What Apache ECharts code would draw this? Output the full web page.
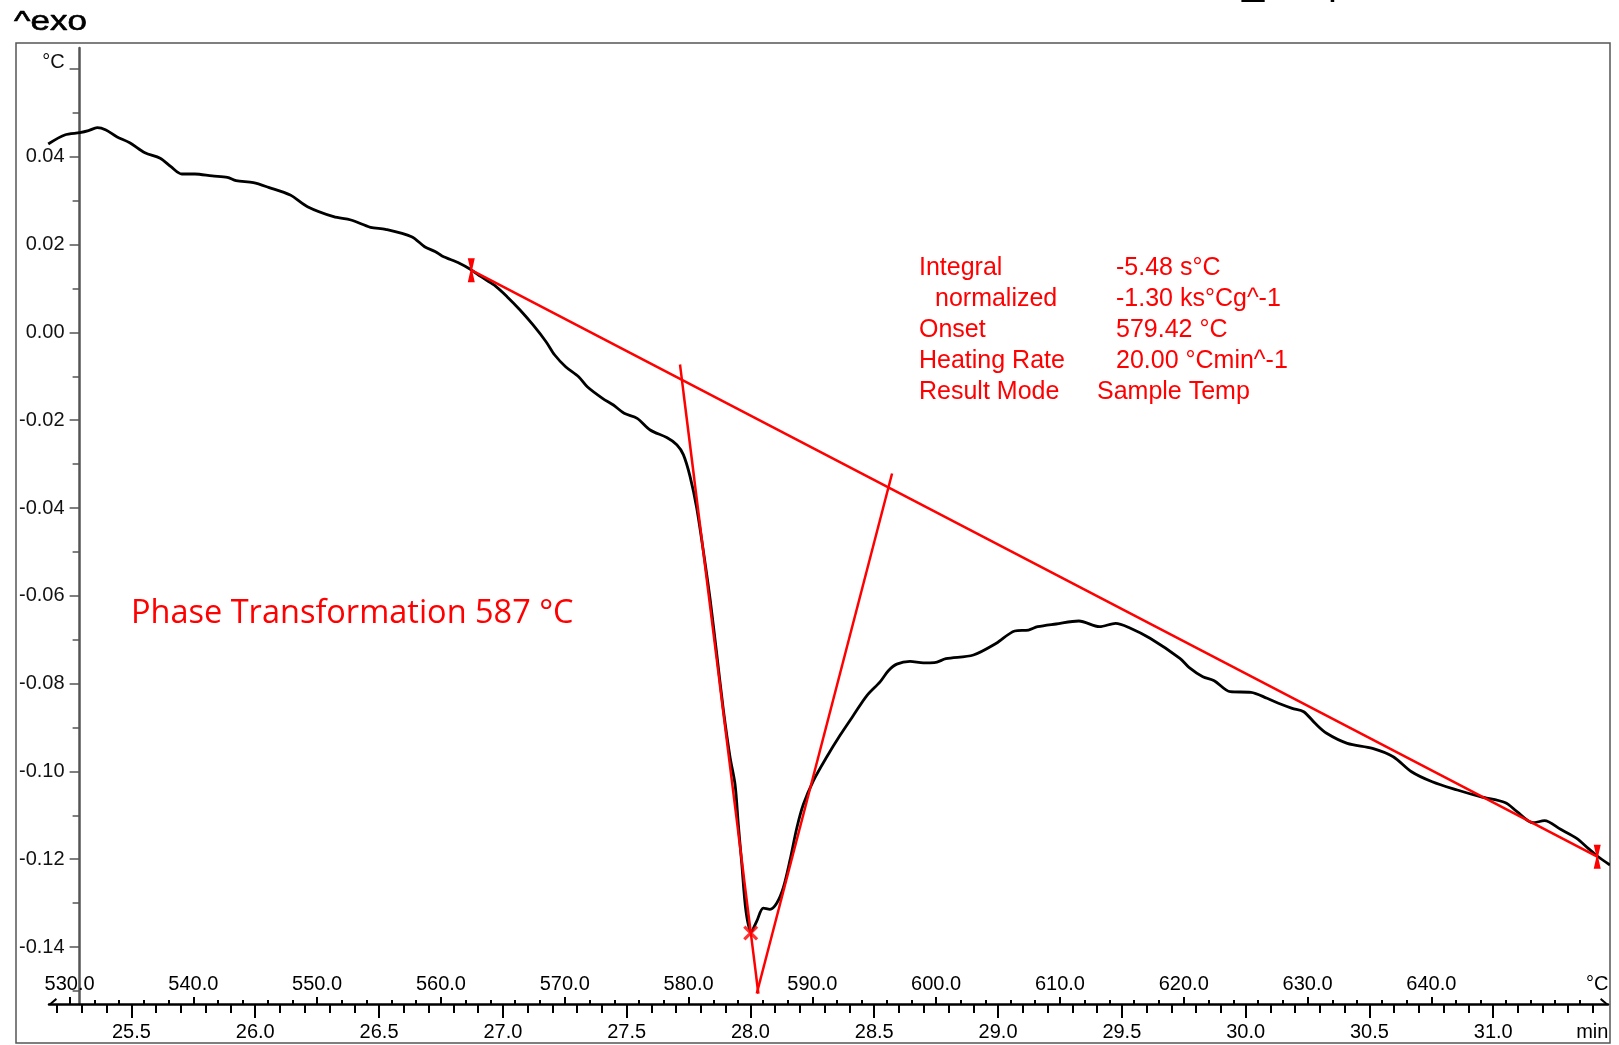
<!DOCTYPE html>
<html><head><meta charset="utf-8">
<script src="https://cdn.jsdelivr.net/npm/echarts@6/dist/echarts.min.js"></script>
<style>html,body{margin:0;padding:0;background:#fff}#c{width:1619px;height:1045px}</style>
</head><body><div id="c"></div>
<script>
// ---- data (sample temperature in °C, DSC signal in °C) ----
const tempC = [528.28,529.61,530.84,531.53,532.24,532.94,533.81,534.86,536.09,537.32,538.19,539.07,540.12,541.52,542.75,543.45,544.85,546.07,547.83,549.22,551.33,552.73,554.31,555.53,557.63,558.68,559.56,560.09,561.49,562.37,563.24,564.29,565.34,566.39,567.44,568.49,569.19,570.07,571.12,571.82,573.05,573.93,574.80,575.85,576.90,578.24,579.05,579.58,580.12,580.66,581.20,581.74,582.28,582.81,583.35,583.76,584.02,584.30,584.64,585.05,585.51,586.04,586.58,587.12,587.66,588.20,588.74,589.27,590.08,591.16,592.24,593.31,594.39,595.47,596.14,596.82,597.89,598.97,599.86,600.79,603.01,604.86,606.35,607.46,608.20,609.69,611.53,613.20,614.50,615.61,617.28,619.69,620.42,621.54,622.46,623.76,625.43,626.73,627.65,628.76,629.69,630.61,631.54,633.21,635.25,636.92,638.40,640.07,642.10,643.96,645.99,646.92,648.21,649.14,650.44,651.74,652.67,653.40,654.43];
const heatFlow = [0.04292,0.04497,0.04549,0.04595,0.04663,0.04610,0.04458,0.04321,0.04093,0.03966,0.03775,0.03608,0.03608,0.03563,0.03533,0.03456,0.03410,0.03305,0.03130,0.02863,0.02636,0.02560,0.02394,0.02349,0.02180,0.01952,0.01838,0.01740,0.01574,0.01437,0.01269,0.01080,0.00813,0.00510,0.00169,-0.00212,-0.00515,-0.00781,-0.01009,-0.01237,-0.01501,-0.01654,-0.01843,-0.01957,-0.02223,-0.02396,-0.02558,-0.02784,-0.03278,-0.03998,-0.04989,-0.06071,-0.07330,-0.08592,-0.09672,-0.10303,-0.11205,-0.12105,-0.13185,-0.13654,-0.13410,-0.13114,-0.13141,-0.13005,-0.12645,-0.12016,-0.11294,-0.10754,-0.10214,-0.09672,-0.09178,-0.08727,-0.08278,-0.07961,-0.07708,-0.07556,-0.07494,-0.07528,-0.07524,-0.07433,-0.07349,-0.07082,-0.06802,-0.06779,-0.06704,-0.06642,-0.06574,-0.06704,-0.06627,-0.06727,-0.06968,-0.07424,-0.07629,-0.07843,-0.07934,-0.08185,-0.08198,-0.08335,-0.08449,-0.08563,-0.08640,-0.08904,-0.09132,-0.09360,-0.09474,-0.09665,-0.10007,-0.10235,-0.10424,-0.10576,-0.10713,-0.10918,-0.11169,-0.11123,-0.11319,-0.11524,-0.11752,-0.11927,-0.12132];

const baselineT = [562.45, 653.40];
const baselineV = [0.01417, -0.11943];
const leftTangentT = [579.31, 585.64];
const leftTangentV = [-0.00731, -0.1506];
const rightTangentT = [596.44, 585.51];
const rightTangentV = [-0.03214, -0.1506];
const peakT = [585.02];
const peakV = [-0.1368];

const tempTickLabels = [530,540,550,560,570,580,590,600,610,620,630,640];
const timeTickLabels = [25.5,26.0,26.5,27.0,27.5,28.0,28.5,29.0,29.5,30.0,30.5,31.0];
const yTickLabels = [-0.14,-0.12,-0.10,-0.08,-0.06,-0.04,-0.02,0.00,0.02,0.04];
const yUnitTick = 0.06;
const tempUnitPos = 653.4;
const timeUnitPos = 31.4;

const resultNames = ['Integral', 'normalized', 'Onset', 'Heating Rate', 'Result Mode'];
const resultValues = ['-5.48 s°C', '-1.30 ks°Cg^-1', '579.42 °C', '20.00 °Cmin^-1', 'Sample Temp'];
const noteText = 'Phase Transformation 587 °C';

// ---- axis helpers ----
const heatingRate = 20, tOffset = 25;          // T = 20 * t + 25
const xMin = 528.34, xMax = 654.27;
const yMin = -0.15298, yMax = 0.06478;
const tempMinor = []; for (let v = 530; v <= 652; v += 2) tempMinor.push(v);
const timeMinor = []; for (let i = 252; i <= 314; i++) timeMinor.push(i / 10);
const yMinor = []; for (let i = -15; i <= 5; i += 2) yMinor.push(i / 100);
const yMajor = yTickLabels.concat([yUnitTick]);

const AX = '"Liberation Sans", Arial, sans-serif';
const harpoonEnd = 'path://M12,0 L12,0 M6,8 L0,15 L1.6,16.2 L6,11 Z';
const harpoonStart = 'path://M0,0 L0,0 M6,8 L12,15 L10.4,16.2 L6,11 Z';
const hourglass = 'path://M0,0 L7,0 L4.3,12 L7,24 L0,24 L2.7,12 Z';
const xMark = 'path://M0,1.8 L1.8,0 L12,10.2 L10.2,12 Z M10.2,0 L12,1.8 L1.8,12 L0,10.2 Z';

const chart = echarts.init(document.getElementById('c'), null, {renderer: 'canvas'});
const pair = (a, b) => a.map((t, i) => [t, b[i]]);

const option = {
  animation: false,
  backgroundColor: '#fff',
  grid: {left: 49, right: 11, top: 48, bottom: 41, containLabel: false, outerBoundsMode: 'none'},
  xAxis: [
    { type: 'value', position: 'bottom', min: xMin, max: xMax,
      axisLine: {show: true, onZero: false, symbol: [harpoonStart, harpoonEnd], symbolSize: [12, 16],
        lineStyle: {color: '#000', width: 2.5}},
      axisTick: {show: true, inside: true, length: 7, customValues: tempTickLabels, lineStyle: {color: '#000', width: 2}},
      axisLabel: {show: true, inside: true, margin: 10, hideOverlap: false,
        customValues: tempTickLabels.concat([tempUnitPos]),
        formatter: v => (Math.abs(v - tempUnitPos) < 1e-6 ? '°C' : v.toFixed(1)),
        color: '#000', fontFamily: AX, fontSize: 20},
      splitLine: {show: false}},
    { type: 'value', position: 'bottom', min: xMin, max: xMax,
      axisLine: {show: false, onZero: false},
      axisTick: {show: true, inside: true, length: 4, customValues: tempMinor, lineStyle: {color: '#000', width: 2}},
      axisLabel: {show: false}, splitLine: {show: false}},
    { type: 'value', position: 'bottom', min: (xMin - tOffset) / heatingRate, max: (xMax - tOffset) / heatingRate,
      axisLine: {show: false, onZero: false},
      axisTick: {show: true, inside: false, length: 14, customValues: timeTickLabels, lineStyle: {color: '#000', width: 2}},
      axisLabel: {show: true, inside: false, margin: 18, hideOverlap: false,
        customValues: timeTickLabels.concat([timeUnitPos]),
        formatter: v => (Math.abs(v - timeUnitPos) < 1e-6 ? 'min' : v.toFixed(1)),
        color: '#000', fontFamily: AX, fontSize: 20},
      splitLine: {show: false}},
    { type: 'value', position: 'bottom', min: (xMin - tOffset) / heatingRate, max: (xMax - tOffset) / heatingRate,
      axisLine: {show: false, onZero: false},
      axisTick: {show: true, inside: false, length: 9, customValues: timeMinor, lineStyle: {color: '#000', width: 2}},
      axisLabel: {show: false}, splitLine: {show: false}}
  ],
  yAxis: [
    { type: 'value', position: 'left', offset: -30.6, min: yMin, max: yMax,
      axisLine: {show: true, onZero: false, lineStyle: {color: '#555', width: 2.5}},
      axisTick: {show: true, length: 10, customValues: yMajor, lineStyle: {color: '#555', width: 1.5}},
      axisLabel: {show: true, margin: 15, hideOverlap: false, customValues: yMajor,
        formatter: v => (Math.abs(v - yUnitTick) < 1e-9 ? '{u|°C}' : v.toFixed(2)),
        rich: {u: {fontFamily: AX, fontSize: 20, color: '#111', padding: [0, 0, 14, 0]}},
        color: '#111', fontFamily: AX, fontSize: 20},
      splitLine: {show: false}},
    { type: 'value', position: 'left', offset: -30.6, min: yMin, max: yMax,
      axisLine: {show: false, onZero: false},
      axisTick: {show: true, length: 7, customValues: yMinor, lineStyle: {color: '#555', width: 1.5}},
      axisLabel: {show: false}, splitLine: {show: false}}
  ],
  series: [
    { type: 'line', name: 'DSC', xAxisIndex: 0, yAxisIndex: 0, data: pair(tempC, heatFlow),
      showSymbol: false, symbol: 'none', smooth: 0.3, clip: false,
      lineStyle: {color: '#000', width: 2.8}, z: 3},
    { type: 'line', name: 'baseline', xAxisIndex: 0, yAxisIndex: 0, data: pair(baselineT, baselineV),
      symbol: hourglass, symbolSize: [7, 24], showSymbol: true, clip: false,
      itemStyle: {color: '#ff0000'}, lineStyle: {color: '#ff0000', width: 2.5}, z: 4},
    { type: 'line', name: 'tangent1', xAxisIndex: 0, yAxisIndex: 0, data: pair(leftTangentT, leftTangentV),
      symbol: 'none', clip: false, lineStyle: {color: '#ff0000', width: 2.5}, z: 4},
    { type: 'line', name: 'tangent2', xAxisIndex: 0, yAxisIndex: 0, data: pair(rightTangentT, rightTangentV),
      symbol: 'none', clip: false, lineStyle: {color: '#ff0000', width: 2.5}, z: 4},
    { type: 'scatter', name: 'peak', xAxisIndex: 0, yAxisIndex: 0, data: pair(peakT, peakV),
      symbol: xMark, symbolSize: 15, itemStyle: {color: '#ff0000'}, z: 5}
  ],
  graphic: [
    {type: 'rect', shape: {x: 16, y: 43, width: 1594, height: 1000}, silent: true, z: -1,
      style: {fill: 'none', stroke: '#555', lineWidth: 1.5}},
    {type: 'text', x: 14, y: 22, scaleX: 1.25, silent: true,
      style: {text: '^exo', font: '28px ' + AX, fill: '#000', stroke: '#000', lineWidth: 0.6,
        verticalAlign: 'middle', textVerticalAlign: 'middle'}},
    // clipped title fragments at the very top edge
    {type: 'text', x: 1242, y: -17.4, silent: true,
      style: {text: '_', font: '40px ' + AX, fill: '#000', verticalAlign: 'middle', textVerticalAlign: 'middle'}},
    {type: 'text', x: 1328, y: -17.4, silent: true,
      style: {text: 'p', font: '40px ' + AX, fill: '#000', verticalAlign: 'middle', textVerticalAlign: 'middle'}},
    {type: 'text', x: 131, y: 614, silent: true,
      style: {text: noteText, font: '32.5px "Open Sans", Lato, sans-serif', fill: '#ff0000', verticalAlign: 'middle', textVerticalAlign: 'middle'}}
  ].concat(resultNames.map((s, i) => ({
      type: 'text', x: i === 1 ? 935 : 919, y: 268 + i * 31, silent: true,
      style: {text: s, font: '25px ' + AX, fill: '#ff0000', verticalAlign: 'middle', textVerticalAlign: 'middle'}})))
   .concat(resultValues.map((s, i) => ({
      type: 'text', x: i === 4 ? 1097 : 1116, y: 268 + i * 31, silent: true,
      style: {text: s, font: '25px ' + AX, fill: '#ff0000', verticalAlign: 'middle', textVerticalAlign: 'middle'}})))
};
chart.setOption(option);
</script>
</body></html>
